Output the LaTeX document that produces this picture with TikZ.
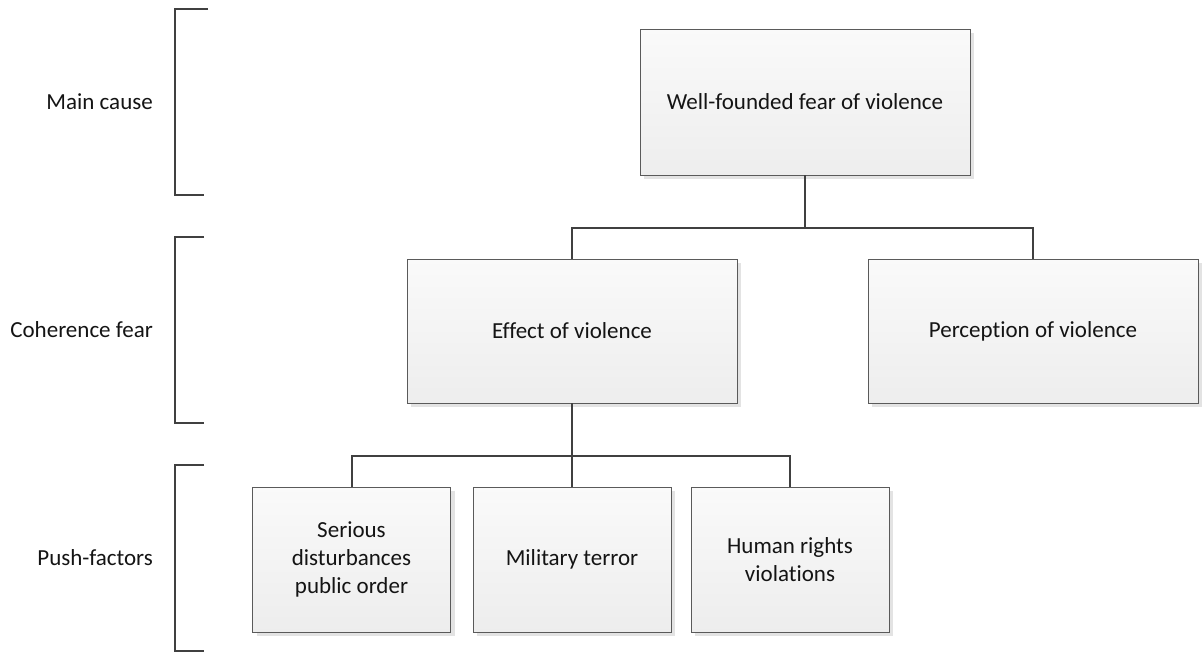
\documentclass[tikz,border=0pt]{standalone}
\usepackage{fontspec}
\setmainfont[Ligatures={NoCommon}]{Carlito}
\usetikzlibrary{shadows}
\newcommand{\nolig}{\kern0pt\relax}
\definecolor{boxline}{HTML}{5A5A5A}
\definecolor{conncol}{HTML}{404040}
\definecolor{txtcol}{HTML}{141414}
\definecolor{shadecol}{HTML}{E3E3E3}
\tikzset{
  orgbox/.style={rectangle, draw=boxline, line width=0.9pt, top color=white!98!black, bottom color=black!7,
    drop shadow={shadow xshift=4pt, shadow yshift=-4pt, fill=shadecol, opacity=1},
    align=center, text=txtcol, font=\fontsize{23}{28}\selectfont, inner sep=2pt},
  bigbox/.style={orgbox, minimum width=330pt, minimum height=145pt},
  smallbox/.style={orgbox, minimum width=198pt, minimum height=145pt},
  conn/.style={draw=conncol, line width=2pt},
  brk/.style={draw=conncol, line width=2pt},
  lvl/.style={anchor=east, text=txtcol, font=\fontsize{23}{28}\selectfont, inner sep=0pt}
}
\begin{document}
\begin{tikzpicture}[x=1pt, y=-1pt]
\useasboundingbox (0,0) rectangle (1203,653);
% level labels and brackets
\node[lvl] (lmain) at (153,102) {Main cause};
\node[lvl] (lcoh) at (153,330) {Coherence fear};
\node[lvl] (lpush) at (153,558) {Push-factors};
\draw[brk] (208,9) -- (175,9) -- (175,195) -- (204,195);
\draw[brk] (204,237) -- (175,237) -- (175,423) -- (204,423);
\draw[brk] (204,465) -- (175,465) -- (175,651) -- (204,651);
% boxes
\node[bigbox, minimum height=146pt] (top) at (805,102) {Well-founded fear of violence};
\node[bigbox, minimum height=144pt] (effect) at (572,331) {Effect of violence};
\node[bigbox, minimum height=144pt] (perc) at (1033,331) {Percept\nolig ion of violence};
\node[smallbox] (serious) at (351.5,559.5) {Serious\\disturbances\\public order};
\node[smallbox] (military) at (572,559.5) {Military terror};
\node[smallbox] (human) at (790,559.5) {Human rights\\violat\nolig ions};
% connectors
\coordinate (j1) at (805,228);
\coordinate (j2) at (572,456);
\draw[conn] (top.south) -- (j1);
\draw[conn] (effect.north) |- (j1) -| (perc.north);
\draw[conn] (effect.south) -- (j2);
\draw[conn] (serious.north) |- (j2) -| (human.north);
\draw[conn] (military.north) -- (j2);
\end{tikzpicture}
\end{document}
